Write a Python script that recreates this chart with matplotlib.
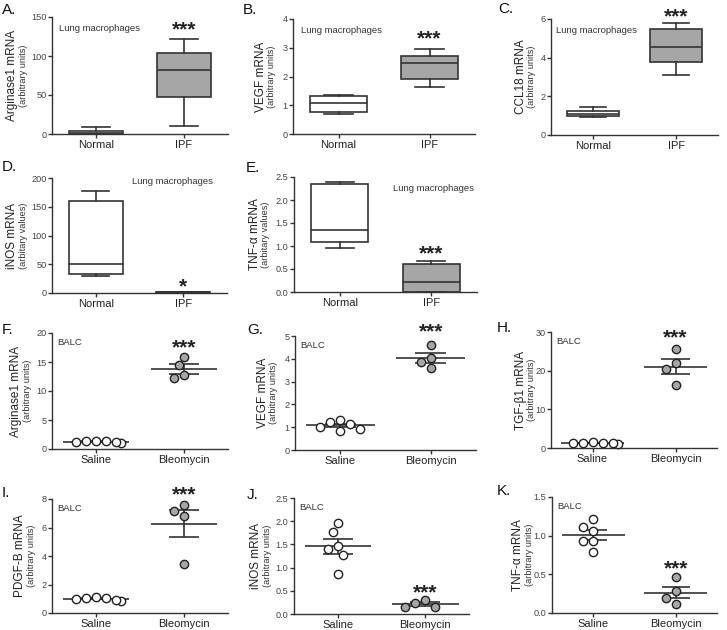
import matplotlib
matplotlib.use("Agg")
import matplotlib.pyplot as plt
import numpy as np

plt.rcParams['font.family'] = ['Liberation Sans', 'DejaVu Sans']

W, H = 727, 630

# ---- box plot panels (A-E): [whislo, q1, median, q3, whishi]
box_groups = ['Normal', 'IPF']
arg_normal = [0, 0, 1, 3.8, 9]
arg_ipf = [10, 47, 82, 103.5, 122]
vegf_normal = [0.69, 0.76, 1.08, 1.31, 1.34]
vegf_ipf = [1.65, 1.92, 2.46, 2.72, 2.96]
ccl18_normal = [0.91, 0.97, 1.09, 1.24, 1.47]
ccl18_ipf = [3.09, 3.78, 4.53, 5.47, 5.78]
inos_normal = [30, 33.6, 51, 160.6, 178]
inos_ipf = [0.3, 0.8, 1.2, 1.8, 2.3]
tnf_normal = [0.96, 1.09, 1.35, 2.34, 2.40]
tnf_ipf = [0.0, 0.01, 0.22, 0.61, 0.67]

# ---- scatter panels (F-K): individual animals
dot_groups = ['Saline', 'Bleomycin']
f_saline = [1.32, 1.21, 0.98, 1.44, 1.21, 1.38]
f_bleo = [15.8, 14.4, 12.2, 12.8]
g_saline = [1.25, 1.02, 0.84, 1.31, 0.92, 1.16]
g_bleo = [4.62, 4.04, 3.88, 3.58]
h_saline = [1.38, 1.29, 1.03, 1.55, 1.29, 1.38]
h_bleo = [25.7, 21.9, 20.5, 16.2]
i_saline = [1.07, 0.98, 0.86, 1.14, 0.89, 1.03]
i_bleo = [7.18, 7.60, 6.81, 3.47]
j_saline = [1.97, 1.77, 1.40, 1.46, 1.27, 0.86]
j_bleo = [0.245, 0.16, 0.16, 0.295]
k_saline = [1.21, 1.11, 1.06, 0.935, 0.935, 0.79]
k_bleo = [0.46, 0.285, 0.20, 0.11]

BOX_EDGE = '#333333'
GREY = '#a6a6a6'
TICK_C = '#444444'

fig = plt.figure(figsize=(W / 100, H / 100), dpi=100)


def make_axes(l, t, r, b):
    return fig.add_axes([l / W, 1 - b / H, (r - l) / W, (b - t) / H])


def style(ax, ymax, yticks, yfmt, cats):
    ax.set_xlim(-0.5, 1.5)
    ax.set_ylim(0, ymax)
    for s in ['top', 'right']:
        ax.spines[s].set_visible(False)
    for s in ['left', 'bottom']:
        ax.spines[s].set_color('#333333')
        ax.spines[s].set_linewidth(1.0)
    ax.set_yticks(yticks)
    ax.set_yticklabels([yfmt.format(v) for v in yticks])
    ax.set_xticks([0, 1])
    ax.set_xticklabels(cats, fontsize=8, color='#222222')
    ax.tick_params(axis='y', labelsize=6.6, labelcolor=TICK_C, length=3,
                   width=1, color='#333333', pad=1)
    ax.tick_params(axis='x', length=3, width=1, color='#333333', pad=1.5)


def labels(ax, letter, lpos, main, sub, off_main, off_sub):
    bb = ax.get_position()
    xl = bb.x0 * W
    yc = (bb.y0 + bb.height / 2)
    fig.text((xl + off_main) / W, yc, main, rotation=90, ha='center',
             va='center', fontsize=8.5, color='#222222')
    fig.text((xl + off_sub) / W, yc, sub, rotation=90, ha='center',
             va='center', fontsize=6.6, color='#333333')
    fig.text(lpos[0] / W, 1 - lpos[1] / H, letter, ha='left', va='center',
             fontsize=11, color='#111111')


def stars(ax, x, y, s='***'):
    ax.text(x, y, s, ha='center', va='center', fontsize=15,
            fontweight='bold', color='#222222', clip_on=False)


def draw_box(ax, normal, ipf):
    stats = []
    for st, lab in zip([normal, ipf], box_groups):
        stats.append(dict(whislo=st[0], q1=st[1], med=st[2], q3=st[3],
                          whishi=st[4], label=lab, fliers=[]))
    bp = ax.bxp(stats, positions=[0, 1], widths=0.62, patch_artist=True,
                showfliers=False,
                boxprops=dict(edgecolor=BOX_EDGE, linewidth=1.2),
                whiskerprops=dict(color=BOX_EDGE, linewidth=1.2),
                capprops=dict(color=BOX_EDGE, linewidth=1.2),
                medianprops=dict(color=BOX_EDGE, linewidth=1.2),
                capwidths=0.31)
    bp['boxes'][0].set_facecolor('white')
    bp['boxes'][1].set_facecolor(GREY)


def swarm(vals, xpx, ypx, step=5.0, dmin=9.5):
    # simple beeswarm: returns x offsets in data units
    order = np.argsort(-vals)
    placed = []
    offs = np.zeros(len(vals))
    for i in order:
        y = vals[i] * ypx
        for k in [0, -1, 1, -2, 2, -3, 3, -4, 4, -5, 5]:
            x = k * step
            if all((x - px) ** 2 + (y - py) ** 2 >= dmin ** 2 for px, py in placed):
                break
        placed.append((x, y))
        offs[i] = x / xpx
    return offs


def draw_dots(ax, saline, bleo, ymax):
    bb = ax.get_position()
    xpx = bb.width * W / 2.0
    ypx = bb.height * H / ymax
    for pos, vals, fc in [(0, saline, 'white'), (1, bleo, GREY)]:
        vals = np.asarray(vals, dtype=float)
        offs = swarm(vals, xpx, ypx)
        m = vals.mean()
        sem = vals.std(ddof=1) / np.sqrt(len(vals))
        ax.hlines(m, pos - 0.38, pos + 0.38, color='#333333', lw=1.2, zorder=2)
        ax.vlines(pos, m - sem, m + sem, color='#333333', lw=1.2, zorder=2)
        ax.hlines([m - sem, m + sem], pos - 0.17, pos + 0.17,
                  color='#333333', lw=1.2, zorder=2)
        ax.scatter(pos + offs, vals, s=36, facecolor=fc, edgecolor='#222222',
                   linewidth=1.0, zorder=3, clip_on=False)


def note(ax, x, y, s):
    ax.text(x, y, s, transform=ax.transAxes, ha='left', va='center',
            fontsize=6.8, color='#333333')


# ---------------- row 1
ax = make_axes(52, 17, 228, 134)
draw_box(ax, arg_normal, arg_ipf)
style(ax, 150, [0, 50, 100, 150], '{:g}', box_groups)
note(ax, 0.04, 0.90, 'Lung macrophages')
stars(ax, 1, 133)
labels(ax, 'A.', (2, 10), 'Arginase1 mRNA', '(arbitrary units)', -40, -28)

ax = make_axes(293, 19, 475, 134)
draw_box(ax, vegf_normal, vegf_ipf)
style(ax, 4, [0, 1, 2, 3, 4], '{:g}', box_groups)
note(ax, 0.045, 0.90, 'Lung macrophages')
stars(ax, 1, 3.3)
labels(ax, 'B.', (243, 10), 'VEGF mRNA', '(arbitrary units)', -32, -21)

ax = make_axes(551, 19, 718, 135)
draw_box(ax, ccl18_normal, ccl18_ipf)
style(ax, 6, [0, 2, 4, 6], '{:g}', box_groups)
note(ax, 0.03, 0.90, 'Lung macrophages')
stars(ax, 1, 6.1)
labels(ax, 'C.', (498, 9), 'CCL18 mRNA', '(arbitrary units)', -30, -19)

# ---------------- row 2
ax = make_axes(52, 178, 227, 293)
draw_box(ax, inos_normal, inos_ipf)
style(ax, 200, [0, 50, 100, 150, 200], '{:g}', box_groups)
note(ax, 0.46, 0.97, 'Lung macrophages')
stars(ax, 1, 11, '*')
labels(ax, 'D.', (2, 167), 'iNOS mRNA', '(arbitary values)', -40, -29)

ax = make_axes(294, 177, 477, 292)
draw_box(ax, tnf_normal, tnf_ipf)
style(ax, 2.5, [0, 0.5, 1.0, 1.5, 2.0, 2.5], '{:.1f}', box_groups)
note(ax, 0.54, 0.90, 'Lung macrophages')
stars(ax, 1, 0.83)
labels(ax, 'E.', (246, 168), 'TNF-α mRNA', '(arbitary values)', -39, -28)

# ---------------- row 3
ax = make_axes(52, 333, 228, 449)
style(ax, 20, [0, 5, 10, 15, 20], '{:g}', dot_groups)
draw_dots(ax, f_saline, f_bleo, 20)
note(ax, 0.03, 0.92, 'BALC')
stars(ax, 1, 17.4)
labels(ax, 'F.', (2, 330), 'Arginase1 mRNA', '(arbitrary units)', -36, -24)

ax = make_axes(295, 336, 476, 450)
style(ax, 5, [0, 1, 2, 3, 4, 5], '{:g}', dot_groups)
draw_dots(ax, g_saline, g_bleo, 5)
note(ax, 0.03, 0.92, 'BALC')
stars(ax, 1, 5.17)
labels(ax, 'G.', (247, 330), 'VEGF mRNA', '(arbitrary units)', -32, -22)

ax = make_axes(551, 332, 717, 448)
style(ax, 30, [0, 10, 20, 30], '{:g}', dot_groups)
draw_dots(ax, h_saline, h_bleo, 30)
note(ax, 0.03, 0.92, 'BALC')
stars(ax, 1, 28.6)
labels(ax, 'H.', (497, 328), 'TGF-β1 mRNA', '(arbitrary units)', -30, -20)

# ---------------- row 4
ax = make_axes(52, 499, 228, 613)
style(ax, 8, [0, 2, 4, 6, 8], '{:g}', dot_groups)
draw_dots(ax, i_saline, i_bleo, 8)
note(ax, 0.03, 0.92, 'BALC')
stars(ax, 1, 8.27)
labels(ax, 'I.', (2, 493), 'PDGF-B mRNA', '(arbitrary units)', -32, -21)

ax = make_axes(294, 498, 469, 614)
style(ax, 2.5, [0, 0.5, 1.0, 1.5, 2.0, 2.5], '{:.1f}', dot_groups)
draw_dots(ax, j_saline, j_bleo, 2.5)
note(ax, 0.03, 0.92, 'BALC')
stars(ax, 1, 0.45)
labels(ax, 'J.', (247, 495), 'iNOS mRNA', '(arbitrary units)', -38, -27)

ax = make_axes(552, 497, 717, 613)
style(ax, 1.5, [0, 0.5, 1.0, 1.5], '{:.1f}', dot_groups)
draw_dots(ax, k_saline, k_bleo, 1.5)
note(ax, 0.03, 0.92, 'BALC')
stars(ax, 1, 0.57)
labels(ax, 'K.', (497, 491), 'TNF-α mRNA', '(arbitrary units)', -34, -23)

fig.savefig('out.png', dpi=100, facecolor='white')
